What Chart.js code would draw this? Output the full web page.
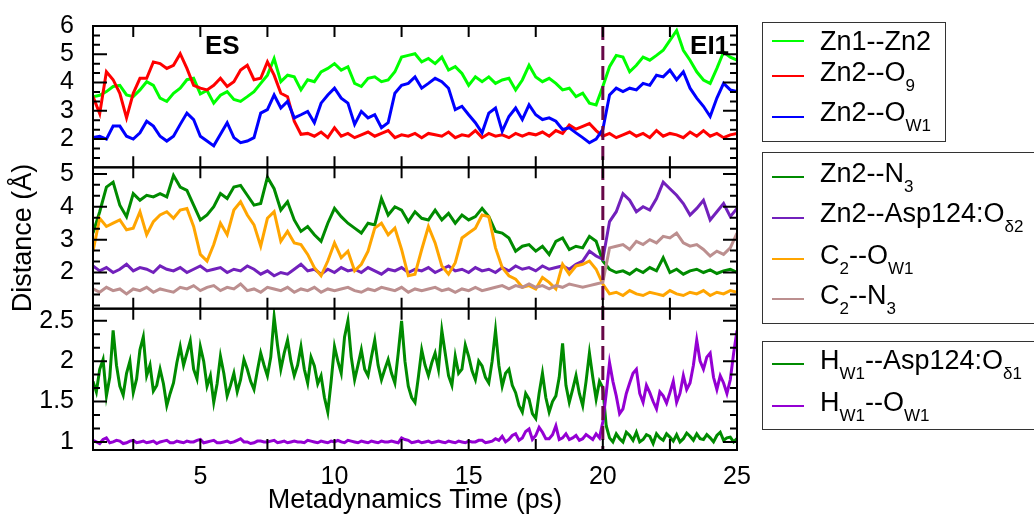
<!DOCTYPE html>
<html>
<head>
<meta charset="utf-8">
<script src="https://cdn.jsdelivr.net/npm/chart.js@4.4.1/dist/chart.umd.min.js"></script>
<style>
html, body { margin:0; padding:0; background:#fff; }
#wrap { position:relative; width:1034px; height:515px; overflow:hidden; font-family:'Liberation Sans', Arial, sans-serif; }
#chart { position:absolute; left:0; top:0; }
.lbox { position:absolute; border:1.5px solid #333; box-sizing:border-box; }
.lrow { position:absolute; left:820px; font-size:27px; line-height:27px; white-space:nowrap; color:#000; }
.lrow sub { font-size:17px; vertical-align:-10px; line-height:0; }
.lline { position:absolute; left:772px; width:32px; height:2px; }
</style>
</head>
<body>
<div id="wrap">
  <canvas id="chart" width="1034" height="515"></canvas>
  <div id="legend"></div>
</div>
<script>
// time grids (ps)
const tStart = 1
const tStep = 0.25
const tStepFine = 0.125

// top panel
const zn1Zn2 = [3.5,3.55,3.68,3.86,3.9,3.56,3.5,3.74,4.03,3.9,
  3.45,3.33,3.62,3.8,4.1,4.15,3.6,3.72,3.27,3.55,
  3.68,3.4,3.33,3.5,3.68,3.97,4.26,4.85,4.03,4.26,
  4.2,3.74,4.1,4.03,4.38,4.5,4.67,4.44,4.56,3.97,
  3.86,4.15,4.2,4.03,4.09,4.38,4.9,4.96,5.02,4.73,
  4.85,4.67,4.9,4.44,4.56,4.32,3.9,4.2,4.03,4.2,
  3.97,4.09,4.15,3.74,4.09,4.61,4.2,4.03,4.15,3.97,
  3.74,3.8,3.5,3.62,3.27,3.21,3.86,4.56,4.96,4.9,
  4.38,4.61,4.9,4.79,4.96,5.14,5.49,5.84,5.14,4.79,
  4.38,4.09,3.97,4.5,5.08,4.9,4.79]
const zn2O9 = [3.5,2.9,4.38,4.1,3.62,2.75,3.62,4.15,4.15,4.73,
  4.67,4.5,4.61,5.02,4.5,3.9,3.8,3.74,3.9,4.15,
  3.86,4.03,4.44,4.61,4.1,4.15,4.73,4.26,3.62,3.5,
  2.63,2.17,2.2,2.1,2.25,2.05,2.4,2.1,2.2,2.05,
  2.15,2.25,2.1,2.2,2.3,2.05,2.15,2.1,2.2,2.05,
  2.2,2.15,2.1,2.25,2.05,2.15,2.1,2.3,2.05,2.2,
  2.1,2.15,2.05,2.2,2.1,2.2,2.15,2.25,2.1,2.3,
  2.2,2.5,2.35,2.45,2.55,2.3,2.1,2.2,2.05,2.15,
  2.25,2.1,2.2,2.05,2.3,2.1,2.2,2.15,2.05,2.25,
  2.1,2.3,2.1,2.2,2.05,2.15,2.2]
const zn2Ow1 = [2.05,2.1,2.0,2.46,2.46,2.1,2.0,2.22,2.63,2.46,
  2.1,1.93,2.1,2.52,2.92,2.69,2.1,1.93,1.76,2.17,
  2.58,2.05,1.87,1.93,2.05,2.92,3.04,3.56,3.1,3.33,
  2.75,2.86,2.98,2.58,3.27,3.56,3.8,3.45,3.27,2.52,
  2.98,2.75,2.86,2.4,2.58,3.62,3.9,3.97,4.2,3.8,
  3.97,4.15,4.03,3.8,3.04,3.16,2.86,2.58,2.22,2.92,
  3.1,2.28,2.8,3.1,2.69,3.21,2.86,2.69,2.75,2.63,
  2.34,2.4,2.22,2.05,1.87,2.0,2.34,3.56,3.8,3.68,
  3.8,3.74,3.97,3.9,4.26,4.2,4.44,4.1,4.38,3.8,
  3.45,3.16,2.8,3.45,3.97,3.74,3.68]

// middle panel
const zn2N3 = [3.2,3.85,4.6,4.75,4.05,3.7,4.4,4.2,4.35,4.3,
  4.4,4.3,4.95,4.6,4.5,4.05,3.6,3.75,4.0,4.4,
  4.25,4.6,4.65,4.35,4.05,4.1,4.9,4.55,3.9,4.15,
  3.6,3.25,3.4,3.15,2.95,3.5,3.95,3.7,3.5,3.35,
  3.2,3.5,3.45,4.25,3.75,4.0,3.9,3.55,3.85,3.65,
  3.6,3.9,3.6,3.8,3.5,3.75,3.6,3.7,3.95,3.7,
  3.25,3.2,3.05,2.65,2.8,2.85,2.65,2.8,2.55,2.95,
  3.05,2.7,2.8,2.75,3.1,2.95,2.35,2.1,2.0,2.05,
  1.95,2.1,2.0,2.15,2.05,2.45,2.0,2.1,1.95,2.05,
  2.1,2.0,2.08,1.97,2.05,2.1,2.0]
const zn2Asp = [2.2,2.05,2.15,2.0,2.1,2.25,2.05,2.15,2.1,2.0,
  2.2,2.1,2.05,2.15,2.0,2.1,2.2,2.05,2.1,2.15,
  2.0,2.1,2.05,2.2,2.1,1.95,2.05,1.9,2.0,1.95,
  2.1,2.25,2.05,2.1,1.95,2.1,2.0,2.15,2.05,2.1,
  2.0,2.15,2.05,1.95,2.1,2.05,2.15,2.0,2.1,2.05,
  2.15,2.0,2.1,2.2,2.05,2.1,2.0,2.15,2.05,2.1,
  2.0,2.15,2.05,2.2,2.1,2.15,2.05,2.2,2.1,2.15,
  2.2,2.1,2.25,2.35,2.65,2.5,2.4,3.55,3.85,4.4,
  4.2,3.85,4.0,3.9,4.25,4.75,4.55,4.35,4.1,3.75,
  3.95,4.2,3.6,3.85,4.1,3.7,3.95]
const c2Ow1 = [2.65,3.65,3.4,3.5,3.6,3.3,3.35,3.85,3.15,3.55,
  3.75,3.85,3.65,3.9,3.95,3.4,2.55,2.35,2.85,3.5,
  3.15,3.9,4.15,3.75,3.45,2.8,3.65,3.85,2.95,3.25,
  2.9,2.85,2.55,2.15,1.9,2.35,2.9,2.45,2.65,2.05,
  2.25,2.65,3.35,3.5,3.15,3.35,2.7,1.9,1.95,2.7,
  3.4,2.9,2.2,1.95,2.3,3.05,3.2,3.35,3.75,3.7,
  2.75,2.15,1.9,1.8,1.55,1.6,1.5,1.85,1.7,1.5,
  2.25,1.95,2.2,2.25,2.35,2.1,1.65,1.35,1.4,1.3,
  1.45,1.35,1.3,1.4,1.35,1.3,1.45,1.35,1.3,1.4,
  1.35,1.45,1.3,1.4,1.35,1.45,1.4]
const c2N3 = [1.5,1.4,1.55,1.45,1.5,1.35,1.5,1.45,1.55,1.4,
  1.5,1.45,1.4,1.55,1.5,1.6,1.45,1.55,1.6,1.45,
  1.55,1.5,1.65,1.45,1.5,1.4,1.55,1.5,1.45,1.55,
  1.4,1.5,1.45,1.55,1.4,1.5,1.45,1.5,1.55,1.45,
  1.4,1.5,1.45,1.55,1.5,1.45,1.55,1.4,1.5,1.45,
  1.5,1.55,1.45,1.5,1.4,1.5,1.45,1.55,1.45,1.5,
  1.55,1.6,1.5,1.6,1.55,1.65,1.55,1.6,1.5,1.6,
  1.55,1.65,1.6,1.55,1.6,1.65,1.7,2.75,2.8,2.85,
  2.7,2.95,2.85,3.0,2.9,3.1,3.05,3.2,2.9,2.8,
  2.85,2.7,2.5,2.65,2.55,2.75,3.2]

// bottom panel (finer sampling, 0.125 ps)
const hw1Asp = [1.75,1.62,1.9,2.02,1.57,1.8,2.38,1.95,1.69,1.58,1.85,2.0,1.61,1.78,2.14,2.3,1.82,1.95,1.63,1.7,
  1.9,1.72,1.45,1.6,1.73,1.98,2.18,1.95,2.1,2.25,1.9,1.78,2.18,2.0,1.69,1.82,1.49,1.72,2.06,1.85,
  1.57,1.7,1.85,1.62,1.77,2.02,1.9,1.75,1.65,1.88,2.1,1.95,1.82,2.05,2.55,2.2,1.9,2.1,2.26,2.0,
  1.82,1.95,2.18,1.9,1.73,2.05,1.94,1.72,1.82,1.55,1.37,1.75,2.18,2.0,1.85,2.3,2.5,2.05,1.77,1.95,
  2.14,1.9,1.82,2.05,2.26,1.95,1.77,1.9,2.02,1.85,1.73,2.1,2.5,2.0,1.69,1.55,1.49,1.8,2.14,1.95,
  1.82,1.98,2.1,1.9,2.38,2.1,1.82,1.7,2.06,1.85,1.9,2.2,2.06,1.88,1.77,2.0,1.94,1.8,1.73,2.0,
  2.38,1.95,1.69,1.85,1.9,1.7,1.61,1.45,1.37,1.6,1.53,1.35,1.29,1.6,1.85,1.55,1.37,1.5,1.57,1.8,
  2.22,1.7,1.49,1.65,1.82,1.6,1.45,1.75,2.1,1.8,1.53,1.75,1.67,1.2,1.05,1.0,1.1,1.04,1.0,1.12,
  1.08,1.02,1.12,1.0,1.03,1.09,1.07,0.98,1.1,1.05,1.02,1.1,1.06,1.01,1.09,1.0,1.04,1.11,1.07,1.02,
  1.1,1.04,1.03,1.09,1.05,1.0,1.08,1.12,1.02,1.05,1.06,1.0,1.04]
const hw1Ow1 = [1.02,1.0,0.98,1.03,1.05,0.99,1.0,1.02,1.01,0.98,0.99,1.01,1.02,0.99,1.0,1.01,0.99,1.0,1.01,0.98,
  1.0,1.01,1.02,0.99,0.99,1.01,1.0,0.99,1.01,1.0,1.0,1.02,1.03,0.99,1.0,1.01,1.02,0.99,0.99,1.0,
  1.01,0.99,1.0,1.02,1.04,1.0,1.0,0.98,0.99,1.01,1.01,1.0,1.0,1.01,1.02,0.99,1.0,1.01,0.99,1.0,
  1.01,1.0,1.0,0.99,1.02,1.01,1.0,0.99,1.01,1.0,0.99,1.01,1.0,1.02,1.0,0.99,1.02,1.01,1.0,0.99,
  1.01,1.0,0.99,1.01,1.0,0.99,1.01,1.0,1.0,1.01,1.0,0.99,1.05,1.03,1.02,0.99,1.0,1.01,0.99,1.0,
  1.01,0.99,1.0,1.01,1.0,0.99,1.01,1.0,0.99,1.01,1.0,0.99,1.01,1.0,1.0,1.02,1.02,0.99,1.0,1.01,
  1.04,1.02,1.07,1.0,1.03,1.08,1.1,1.02,1.05,1.13,1.16,1.03,1.08,1.18,1.12,1.04,1.04,1.09,1.2,1.03,
  1.05,1.1,1.03,1.05,1.08,1.02,1.04,1.09,1.06,1.03,1.1,1.05,1.25,1.6,1.98,1.75,1.57,1.35,1.41,1.6,
  1.73,1.85,1.9,1.6,1.49,1.7,1.61,1.5,1.41,1.62,1.57,1.48,1.61,1.75,1.49,1.6,1.82,1.65,1.73,1.95,
  2.26,2.0,1.9,2.05,2.1,1.8,1.65,1.82,1.73,1.6,1.77,2.1,2.38]

// axes
const xTickLabels = [5, 10, 15, 20, 25]
const xTickMarks = [2.5, 5, 7.5, 10, 12.5, 15, 17.5, 20, 22.5]
const yTicksTop = [2, 3, 4, 5, 6]
const yTicksMid = [2, 3, 4, 5]
const yTicksBot = [1, 1.5, 2, 2.5]
const transitionTime = 20
const stageLabels = [['ES', 5.17], ['EI1', 23.25]]

const FONT = "'Liberation Sans', Arial, sans-serif"

const series = [
  {name:'Zn1--Zn2', html:'Zn1--Zn2', data:zn1Zn2, step:tStep, color:'#00ff00', axis:'yTop'},
  {name:'Zn2--O9', html:'Zn2--O<sub>9</sub>', data:zn2O9, step:tStep, color:'#ff0000', axis:'yTop'},
  {name:'Zn2--OW1', html:'Zn2--O<sub>W1</sub>', data:zn2Ow1, step:tStep, color:'#0000ff', axis:'yTop'},
  {name:'Zn2--N3', html:'Zn2--N<sub>3</sub>', data:zn2N3, step:tStep, color:'#008b00', axis:'yMid'},
  {name:'Zn2--Asp124:Od2', html:'Zn2--Asp124:O<sub>δ2</sub>', data:zn2Asp, step:tStep, color:'#7221bc', axis:'yMid'},
  {name:'C2--OW1', html:'C<sub>2</sub>--O<sub>W1</sub>', data:c2Ow1, step:tStep, color:'#ffa500', axis:'yMid'},
  {name:'C2--N3', html:'C<sub>2</sub>--N<sub>3</sub>', data:c2N3, step:tStep, color:'#bc8f8f', axis:'yMid'},
  {name:'HW1--Asp124:Od1', html:'H<sub>W1</sub>--Asp124:O<sub>δ1</sub>', data:hw1Asp, step:tStepFine, color:'#008b00', axis:'yBot'},
  {name:'HW1--OW1', html:'H<sub>W1</sub>--O<sub>W1</sub>', data:hw1Ow1, step:tStepFine, color:'#9400d3', axis:'yBot'}
]

// legend boxes: [left, top, width, height], rows: [series index, line y, text baseline]
const legendGroups = [
  {box:[762, 22, 184, 120], rows:[[0, 40.7, 50.7], [1, 76, 81.7], [2, 116.7, 121.7]]},
  {box:[762, 152, 290, 172], rows:[[3, 177.3, 183.3], [4, 218.3, 223.3], [5, 259, 265], [6, 299.3, 305]]},
  {box:[762, 341, 290, 89], rows:[[7, 364.3, 370], [8, 406, 411.7]]}
]

const legend = document.getElementById('legend')
legendGroups.forEach(g => {
  const b = document.createElement('div')
  b.className = 'lbox'
  b.style.left = g.box[0] + 'px'; b.style.top = g.box[1] + 'px'
  b.style.width = g.box[2] + 'px'; b.style.height = g.box[3] + 'px'
  legend.appendChild(b)
  g.rows.forEach(([i, ly, base]) => {
    const l = document.createElement('div')
    l.className = 'lline'
    l.style.top = (ly - 1) + 'px'
    l.style.background = series[i].color
    legend.appendChild(l)
    const t = document.createElement('div')
    t.className = 'lrow'
    t.style.top = (base - 23) + 'px'
    t.innerHTML = series[i].html
    legend.appendChild(t)
  })
})

const pts = (arr, step) => arr.map((v, i) => ({x: tStart + i * step, y: v}))

const panels = [
  {id:'yTop', ticks:yTicksTop, minor:1/3, min:1, max:6},
  {id:'yMid', ticks:yTicksMid, minor:1/3, min:0.9, max:5.2},
  {id:'yBot', ticks:yTicksBot, minor:1/6, min:0.9, max:2.65}
]

const framePlugin = {
  id: 'frame',
  afterDatasetsDraw(chart) {
    const {ctx, scales} = chart
    const x = scales.x
    const left = x.left, right = x.right
    ctx.save()
    // transition marker
    const xt = x.getPixelForValue(transitionTime)
    ctx.strokeStyle = '#670748'
    ctx.lineWidth = 3
    ctx.setLineDash([14, 6])
    ctx.beginPath()
    ctx.moveTo(xt, scales.yTop.top)
    ctx.lineTo(xt, scales.yBot.bottom)
    ctx.stroke()
    ctx.setLineDash([])
    ctx.strokeStyle = '#000'
    ctx.lineWidth = 2
    panels.forEach(p => {
      const s = scales[p.id]
      const top = s.top, bottom = s.bottom
      ctx.strokeRect(left, top, right - left, bottom - top)
      ctx.beginPath()
      xTickMarks.forEach(v => {
        const px = x.getPixelForValue(v)
        ctx.moveTo(px, top); ctx.lineTo(px, top + 11)
        ctx.moveTo(px, bottom); ctx.lineTo(px, bottom - 11)
      })
      for (let v = 1; v < p.max - 1e-6; v += p.minor) {
        if (v <= p.min + 1e-6) continue
        const major = p.ticks.some(t => Math.abs(t - v) < 1e-6)
        const len = major ? 14 : 7
        const py = s.getPixelForValue(v)
        ctx.moveTo(left, py); ctx.lineTo(left + len, py)
        ctx.moveTo(right, py); ctx.lineTo(right - len, py)
      }
      ctx.stroke()
    })
    ctx.fillStyle = '#000'
    ctx.font = 'bold 26px ' + FONT
    ctx.textBaseline = 'alphabetic'
    ctx.textAlign = 'left'
    stageLabels.forEach(([txt, t]) => {
      ctx.fillText(txt, x.getPixelForValue(t), scales.yTop.getPixelForValue(5.0))
    })
    ctx.restore()
  }
}

const yScale = (p, extra) => Object.assign({
  type: 'linear', position: 'left', stack: 'panels', stackWeight: 1,
  min: p.min, max: p.max,
  grid: {display: false}, border: {display: false},
  ticks: {autoSkip: false, padding: 11, color: '#000', font: {family: FONT, size: 25},
    callback: v => String(v)},
  afterBuildTicks: s => { s.ticks = p.ticks.map(v => ({value: v})) },
  afterFit: s => { s.width = 93 }
}, extra)

new Chart(document.getElementById('chart'), {
  type: 'line',
  data: {
    datasets: series.map((s, i) => ({
      label: s.name,
      data: pts(s.data, s.step),
      yAxisID: s.axis,
      borderColor: s.color,
      backgroundColor: s.color,
      borderWidth: 3,
      pointRadius: 0,
      fill: false,
      tension: 0,
      order: series.length - i
    }))
  },
  options: {
    responsive: false,
    animation: false,
    events: [],
    layout: {padding: {top: 22, right: 297, left: 0, bottom: 0}},
    plugins: {legend: {display: false}, tooltip: {enabled: false}},
    scales: {
      x: {
        type: 'linear', min: 1, max: 25,
        grid: {display: false}, border: {display: false},
        ticks: {autoSkip: false, padding: 4, maxRotation: 0, color: '#000', font: {family: FONT, size: 25}},
        afterBuildTicks: s => { s.ticks = xTickLabels.map(v => ({value: v})) },
        afterFit: s => { s.height = 65 },
        title: {display: true, text: 'Metadynamics Time (ps)', color: '#000',
          font: {family: FONT, size: 27, lineHeight: 1}, padding: {top: 0, bottom: 1}}
      },
      yTop: yScale(panels[0], {weight: 3}),
      yMid: yScale(panels[1], {weight: 2, title: {display: true, text: 'Distance (Å)', color: '#000',
        font: {family: FONT, size: 27}, padding: {top: 7, bottom: 0}}}),
      yBot: yScale(panels[2], {weight: 1})
    }
  },
  plugins: [framePlugin]
})
</script>
</body>
</html>
